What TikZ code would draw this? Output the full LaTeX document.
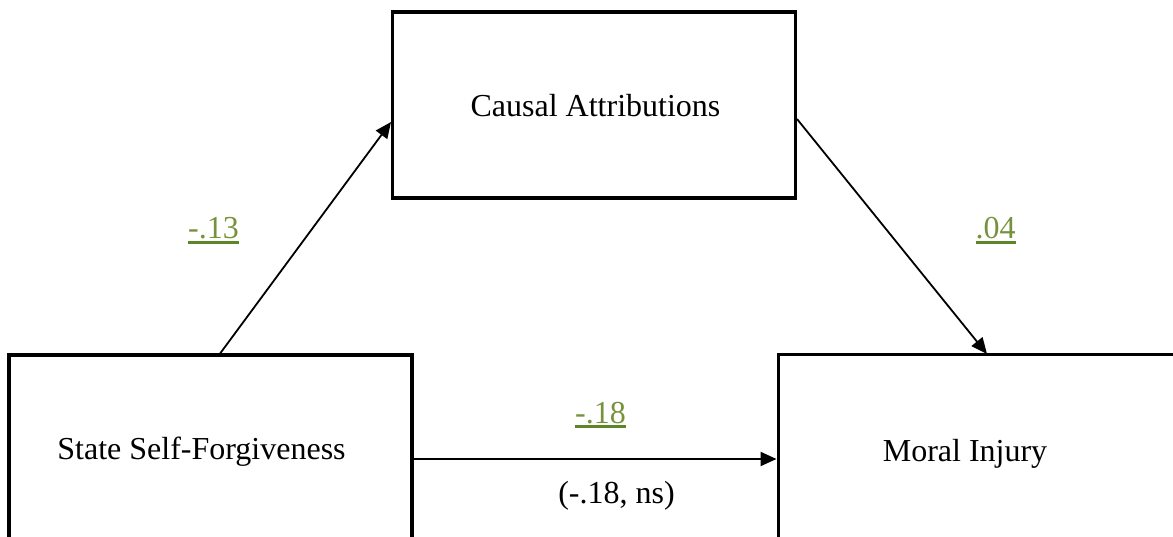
\documentclass[tikz,border=0pt]{standalone}
\usepackage{fontspec}
\setmainfont{Liberation Serif}
\usetikzlibrary{arrows.meta}
\definecolor{lblgreen}{RGB}{118,146,60}
\definecolor{ulgreen}{RGB}{92,134,40}
\newcommand{\grnul}[1]{\setbox0\hbox{#1}\rlap{\textcolor{ulgreen}{\rule[-5pt]{\wd0}{3pt}}}\box0}
\tikzset{
  box/.style={draw=black, line width=3.5pt, rectangle, inner sep=0pt},
  boxtext/.style={anchor=base, inner sep=0pt, font=\fontsize{32}{38}\selectfont},
  coef/.style={anchor=base, inner sep=0pt, text=lblgreen, font=\fontsize{32}{38}\selectfont},
  arr/.style={draw=black, line width=1.8pt, -{Triangle[length=16pt,width=14pt]}},
}
\begin{document}
\begin{tikzpicture}[x=1pt,y=-1pt]
\useasboundingbox (0,0) rectangle (1173,537);
\clip (0,0) rectangle (1173,537);
% boxes
\node[box, minimum width=403pt, minimum height=186pt] (causal) at (594,105) {};
\node[box, minimum width=403pt, minimum height=195pt] (state) at (210.5,452.5) {};
\node[box, line width=3pt, minimum width=403pt, minimum height=195pt] (moral) at (979.5,452.5) {};
% texts
\node[boxtext] (causalt) at (595.5,117) {Causal Attributions};
\node[boxtext] (statet) at (201.5,459) {State Self-Forgiveness};
\node[boxtext] (moralt) at (965,461) {Moral Injury};
% connector endpoints
\coordinate (a1s) at (219,355);
\coordinate (a1e) at (391,122);
\coordinate (a2s) at (797,119);
\coordinate (a2e) at (987,354);
\draw[arr] (a1s) -- (a1e);
\draw[arr] (a2s) -- (a2e);
\draw[arr, line width=2.2pt] (state.east |- 0,459) -- (moral.west |- 0,459);
% coefficients
\node[coef] (c1) at (213.5,239) {\grnul{-.13}};
\node[coef] (c2) at (995.5,239) {\grnul{.04}};
\node[coef] (c3) at (600.5,423) {\grnul{-.18}};
\node[boxtext] (c3b) at (616.5,503) {(-.18, ns)};
\end{tikzpicture}
\end{document}
